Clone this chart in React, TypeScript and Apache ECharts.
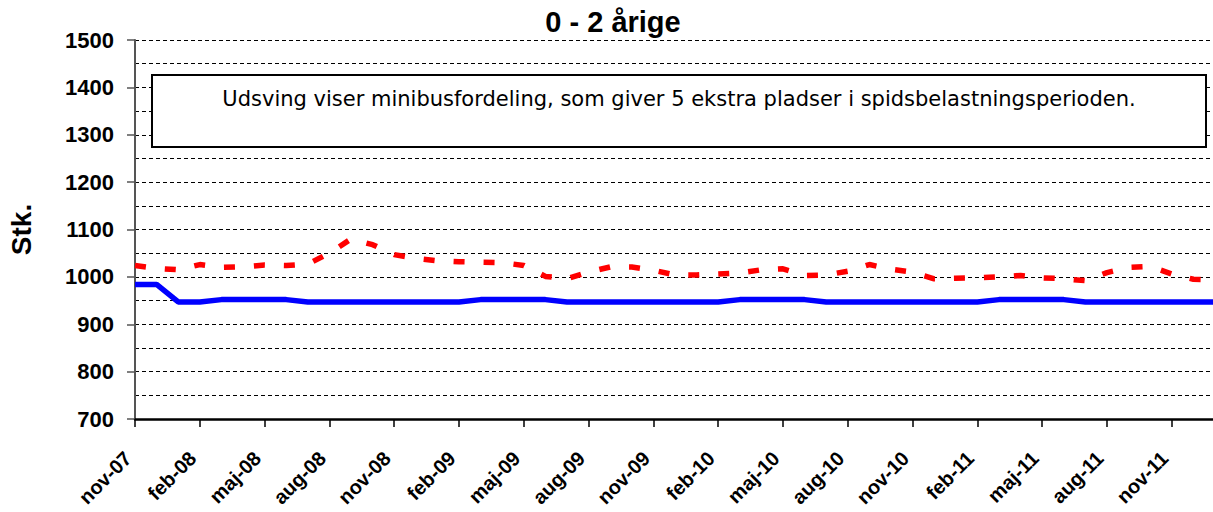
import React, { useEffect, useRef } from "react";
import * as echarts from "echarts";

const title = "0 - 2 årige";
const yName = "Stk.";
const note = "Udsving viser minibusfordeling, som giver 5 ekstra pladser i spidsbelastningsperioden.";

const months = [
  "nov-07", "dec-07",
  "jan-08", "feb-08", "mar-08", "apr-08", "maj-08", "jun-08", "jul-08", "aug-08", "sep-08", "okt-08", "nov-08", "dec-08",
  "jan-09", "feb-09", "mar-09", "apr-09", "maj-09", "jun-09", "jul-09", "aug-09", "sep-09", "okt-09", "nov-09", "dec-09",
  "jan-10", "feb-10", "mar-10", "apr-10", "maj-10", "jun-10", "jul-10", "aug-10", "sep-10", "okt-10", "nov-10", "dec-10",
  "jan-11", "feb-11", "mar-11", "apr-11", "maj-11", "jun-11", "jul-11", "aug-11", "sep-11", "okt-11", "nov-11", "dec-11",
  "jan-12",
];

const capacity = [
  984, 984,
  947, 947, 952, 952, 952, 952, 947, 947, 947, 947, 947, 947,
  947, 947, 952, 952, 952, 952, 947, 947, 947, 947, 947, 947,
  947, 947, 952, 952, 952, 952, 947, 947, 947, 947, 947, 947,
  947, 947, 952, 952, 952, 952, 947, 947, 947, 947, 947, 947,
  947,
];

const demand = [
  1024, 1018,
  1015, 1026, 1020, 1021, 1025, 1024, 1027, 1050, 1080, 1068, 1047, 1039,
  1034, 1032, 1031, 1030, 1024, 1001, 996, 1010, 1021, 1021, 1014, 1004,
  1004, 1006, 1008, 1015, 1017, 1003, 1004, 1012, 1026, 1016, 1010, 996,
  997, 998, 1000, 1003, 998, 996, 992, 1009, 1020, 1022, 1006, 995,
  994,
];

const FONT = "Arial, 'Liberation Sans', sans-serif";

export default function App() {
  const ref = useRef<HTMLDivElement>(null);
  useEffect(() => {
    if (!ref.current) return;
    const chart = echarts.init(ref.current, undefined, { renderer: "svg" });
    const dash = { type: [4, 3] as any, color: "#000", width: 1 };
    chart.setOption({
      animation: false,
      backgroundColor: "#fff",
      grid: {
        left: 135,
        right: -2,
        top: 40,
        bottom: 93,
        containLabel: false,
        outerBoundsMode: "none",
      },
      xAxis: {
        type: "category",
        data: months,
        boundaryGap: false,
        axisLine: { lineStyle: { color: "#000", width: 2.5 } },
        axisTick: { show: true, interval: 2, length: 8, lineStyle: { color: "#000", width: 1.5 } },
        axisLabel: {
          interval: 2,
          rotate: 45,
          margin: 43,
          align: "right",
          verticalAlign: "bottom",
          color: "#000",
          fontFamily: FONT,
          fontWeight: "bold",
          fontSize: 20,
        },
        splitLine: { show: false },
      },
      yAxis: {
        type: "value",
        min: 700,
        max: 1500,
        interval: 100,
        name: yName,
        nameLocation: "middle",
        nameGap: 100,
        nameRotate: 90,
        nameTextStyle: {
          color: "#000",
          fontFamily: FONT,
          fontWeight: "bold",
          fontSize: 28,
        },
        axisLine: { show: true, lineStyle: { color: "#555", width: 2 } },
        axisTick: { show: true, length: 8, lineStyle: { color: "#555", width: 1.5 } },
        axisLabel: {
          margin: 21,
          formatter: (v: number) => String(v),
          color: "#000",
          fontFamily: FONT,
          fontWeight: "bold",
          fontSize: 22,
        },
        splitLine: { show: true, lineStyle: dash },
        minorTick: { show: false, splitNumber: 2 },
        minorSplitLine: { show: true, lineStyle: dash },
      },
      series: [
        {
          type: "line",
          data: capacity,
          symbol: "none",
          z: 3,
          lineStyle: { color: "#0000ff", width: 5.5 },
        },
        {
          type: "line",
          data: demand,
          symbol: "none",
          z: 4,
          lineStyle: { color: "#ff0000", width: 5.5, type: [11, 19] as any, cap: "butt" },
        },
      ],
      graphic: [
        {
          type: "text",
          x: 613,
          y: 22,
          z: 10,
          style: {
            text: title,
            fill: "#000",
            font: `bold 29px ${FONT}`,
            textAlign: "center",
            textVerticalAlign: "middle",
          },
        },
        {
          type: "rect",
          z: 10,
          shape: { x: 152, y: 75, width: 1054, height: 72 },
          style: { fill: "#fff", stroke: "#000", lineWidth: 2 },
        },
        {
          type: "text",
          x: 679,
          y: 99,
          z: 11,
          style: {
            text: note,
            fill: "#000",
            font: "21px 'DejaVu Sans', Verdana, sans-serif",
            textAlign: "center",
            textVerticalAlign: "middle",
          },
        },
      ],
    });
    return () => chart.dispose();
  }, []);
  return (
    <div
      ref={ref}
      style={{ position: "fixed", left: 0, top: 0, width: 1213, height: 512 }}
    />
  );
}
